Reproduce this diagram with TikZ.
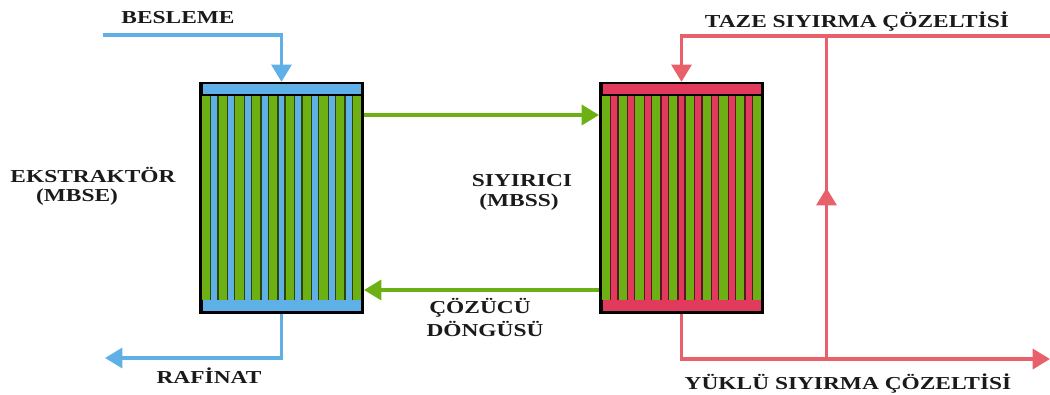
\documentclass[tikz,border=0pt]{standalone}
\usepackage{xcolor}
\usepackage{fontspec}
\setmainfont[FakeStretch=1.28]{Liberation Serif}
\usetikzlibrary{arrows.meta,positioning}
\definecolor{FeedBlue}  {HTML}{5FB0E6}
\definecolor{StripRed}  {HTML}{E23A5C}
\definecolor{PipeRed}   {HTML}{E8606A}
\definecolor{CoreGreen} {HTML}{6CB014}
\definecolor{DarkText}  {HTML}{1A1A1A}
\tikzset{
  lbl/.style={font=\fontsize{13.7}{15}\selectfont\bfseries,text=DarkText,align=center,inner sep=0pt},
  shell/.style={draw=black,line width=2.2pt,fill=CoreGreen,minimum width=121.5pt,minimum height=172pt,inner sep=0pt},
  header/.style={minimum width=118.5pt,minimum height=8pt,inner sep=0pt},
  pipe/.style={line width=2.5pt,-{Triangle[length=13pt,width=15pt]}},
  plainpipe/.style={line width=2.5pt}
}
\begin{document}
\begin{tikzpicture}[x=0.75pt,y=-0.75pt]
    \useasboundingbox (0,0) rectangle (1050,394);
    % modules
    \node[shell] (extractor) at (281.5,198) {};
    \node[shell] (stripper) at (681.5,198) {};
    \foreach \i in {0,...,8}{
      \fill[black!60!CoreGreen] ({210+16.8*\i},94) rectangle ++(8.6,206);
      \fill[FeedBlue] ({211.4+16.8*\i},94) rectangle ++(5.8,206);
      \fill[black!60!StripRed] ({610+16.8*\i},94) rectangle ++(8.6,206);
      \fill[StripRed] ({611.4+16.8*\i},94) rectangle ++(5.8,206);
    }
    \fill[black] (201,83) rectangle (362,95.5);
    \fill[black] (601,83) rectangle (762,95.5);
    \fill[black] (201,299.5) rectangle (362,313);
    \fill[black] (601,299.5) rectangle (762,313);
    \node[header,fill=FeedBlue] (extop) at (281.5,89) {};
    \node[header,fill=FeedBlue] (exbot) at (281.5,305.5) {};
    \node[header,fill=StripRed] (sttop) at (681.5,89) {};
    \node[header,fill=StripRed] (stbot) at (681.5,305.5) {};
    % free ends
    \coordinate (feedin) at (103,35);
    \coordinate (raffout) at (105,358);
    \coordinate (freshin) at (1050,36);
    \coordinate (loadout) at (1050,359);
    \coordinate (tee) at (826.5,36);
    \coordinate (teeb) at (826.5,359);
    \coordinate (teem) at (826.5,188);
    % lines
    \draw[pipe,FeedBlue] (feedin) -| (extractor.north);
    \draw[pipe,FeedBlue] (extractor.south) |- (raffout);
    \draw[pipe,CoreGreen] (extractor.east |- 0,115) -- (stripper.west |- 0,115);
    \draw[pipe,CoreGreen] (stripper.west |- 0,290) -- (extractor.east |- 0,290);
    \draw[pipe,PipeRed] (freshin) -| (stripper.north);
    \draw[pipe,PipeRed] (stripper.south) |- (loadout);
    \draw[plainpipe,PipeRed] (teeb) -- (tee);
    \draw[pipe,PipeRed] (teeb) -- (teem);
    % labels
    \node[lbl] (besleme) at (178,18) {BESLEME};
    \node[lbl] (rafinat) at (209,376) {RAFİNAT};
    \node[lbl] (eks) at (93,175) {EKSTRAKTÖR};
    \node[lbl] (mbse) at (77,197) {(MBSE)};
    \node[lbl] (siy) at (522,181) {SIYIRICI};
    \node[lbl] (mbss) at (519,202) {(MBSS)};
    \node[lbl] (coz) at (480,308) {ÇÖZÜCÜ};
    \node[lbl] (don) at (485,329) {DÖNGÜSÜ};
    \node[lbl] (taze) at (857,22) {TAZE SIYIRMA ÇÖZELTİSİ};
    \node[lbl] (yuklu) at (848,384) {YÜKLÜ SIYIRMA ÇÖZELTİSİ};
\end{tikzpicture}
\end{document}
